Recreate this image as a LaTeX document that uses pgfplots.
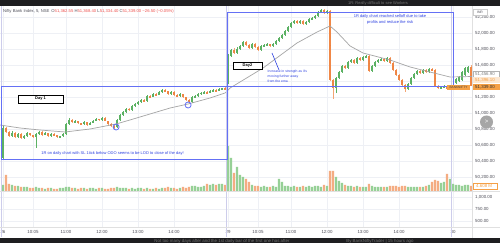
\documentclass[border=0pt]{standalone}
\usepackage{fontspec}
\setmainfont{Liberation Sans}
\usepackage{pgfplots}
\usepackage{pgfplotstable}
\pgfplotsset{compat=1.18}
\definecolor{upC}{RGB}{92,178,100}
\definecolor{dnC}{RGB}{240,135,70}
\definecolor{upV}{RGB}{150,208,150}
\definecolor{dnV}{RGB}{244,172,130}
\definecolor{boxB}{RGB}{100,112,245}
\definecolor{txtB}{RGB}{45,65,225}
\definecolor{emaC}{RGB}{165,165,165}
\definecolor{gridC}{RGB}{238,240,245}
\definecolor{redT}{RGB}{239,83,80}
\definecolor{axT}{RGB}{80,80,90}
\definecolor{darkbar}{RGB}{30,30,32}
\definecolor{tagO}{RGB}{245,160,70}
\definecolor{sepC}{RGB}{205,205,235}

\pgfplotstableread{
i o h l c v
0 50437.5 50837.5 50425 50812.5 6
1 50812.5 50825 50750 50762.5 16
2 50762.5 50775 50700 50712.5 7
3 50712.5 50770 50700 50750 6
4 50750 50760 50690 50700 5
5 50700 50750 50690 50737.5 5
6 50737.5 50745 50675 50687.5 4
7 50687.5 50720 50680 50712.5 4
8 50712.5 50765 50705 50750 4
9 50750 50755 50715 50725 3
10 50725 50730 50690 50700 3
11 50700 50745 50562.5 50737.5 4
12 50737.5 50770 50730 50762.5 3
13 50762.5 50770 50715 50725 3
14 50725 50760 50720 50750 2
15 50750 50755 50705 50712.5 3
16 50712.5 50745 50705 50737.5 3
17 50737.5 50745 50715 50725 2
18 50725 50730 50690 50700 2
19 50700 50720 50695 50712.5 3
20 50712.5 50745 50705 50737.5 3
21 50737.5 50870 50730 50862.5 4
22 50862.5 50935 50855 50912.5 4
23 50912.5 50920 50880 50887.5 3
24 50887.5 50910 50880 50900 3
25 50900 50905 50865 50875 2
26 50875 50880 50855 50862.5 3
27 50862.5 50895 50855 50887.5 3
28 50887.5 50890 50840 50850 2
29 50850 50885 50845 50875 3
30 50875 50910 50870 50900 3
31 50900 50935 50895 50925 2
32 50925 50930 50905 50912.5 3
33 50912.5 50950 50905 50937.5 3
34 50937.5 50945 50895 50900 2
35 50900 50905 50855 50862.5 2
36 50862.5 50870 50830 50837.5 3
37 50837.5 50845 50800 50825 3
38 50825 50920 50815 50912.5 4
39 50912.5 50985 50905 50975 3
40 50975 51025 50965 51012.5 3
41 51012.5 51060 51005 51050 3
42 51050 51060 51030 51037.5 2
43 51037.5 51095 51030 51087.5 3
44 51087.5 51120 51080 51112.5 2
45 51112.5 51145 51105 51137.5 3
46 51137.5 51175 51130 51162.5 3
47 51162.5 51170 51140 51150 2
48 51150 51225 51140 51212.5 3
49 51212.5 51220 51190 51200 2
50 51200 51250 51195 51237.5 2
51 51237.5 51245 51215 51225 3
52 51225 51275 51220 51262.5 2
53 51262.5 51300 51255 51287.5 3
54 51287.5 51295 51265 51275 3
55 51275 51280 51225 51237.5 4
56 51237.5 51270 51230 51262.5 3
57 51262.5 51270 51215 51225 3
58 51225 51235 51200 51212.5 2
59 51212.5 51245 51205 51237.5 3
60 51237.5 51245 51190 51200 4
61 51200 51205 51150 51162.5 3
62 51162.5 51170 51110 51137.5 4
63 51137.5 51210 51130 51200 5
64 51200 51225 51195 51212.5 5
65 51212.5 51245 51205 51237.5 4
66 51237.5 51260 51230 51250 4
67 51250 51270 51240 51262.5 5
68 51262.5 51270 51240 51250 7
69 51250 51285 51245 51275 6
70 51275 51295 51270 51287.5 7
71 51287.5 51295 51265 51275 6
72 51275 51310 51270 51300 7
73 51300 51320 51295 51312.5 7
74 51312.5 51320 51290 51300 6
75 51387.5 51737.5 51362.5 51712.5 45
76 51712.5 51800 51700 51787.5 33
77 51787.5 51810 51740 51750 18
78 51750 51820 51740 51800 24
79 51800 51850 51790 51837.5 16
80 51837.5 51900 51830 51887.5 14
81 51887.5 51900 51840 51850 12
82 51850 51860 51800 51812.5 9
83 51812.5 51875 51800 51862.5 6
84 51862.5 51870 51810 51825 5
85 51825 51835 51775 51787.5 5
86 51787.5 51850 51780 51837.5 4
87 51837.5 51860 51830 51850 5
88 51850 51870 51840 51862.5 4
89 51862.5 51870 51825 51837.5 4
90 51837.5 51875 51830 51862.5 5
91 51862.5 51910 51855 51900 4
92 51900 51950 51890 51937.5 12
93 51937.5 51990 51930 51975 9
94 51975 52040 51965 52025 5
95 52025 52090 52015 52075 5
96 52075 52140 52065 52125 4
97 52125 52160 52115 52150 5
98 52150 52165 52115 52125 4
99 52125 52160 52115 52150 4
100 52150 52160 52100 52112.5 5
101 52112.5 52150 52105 52137.5 4
102 52137.5 52185 52130 52175 5
103 52175 52200 52165 52187.5 4
104 52187.5 52225 52180 52212.5 5
105 52212.5 52275 52205 52262.5 5
106 52262.5 52300 52255 52287.5 4
107 52287.5 52300 52240 52250 6
108 52250 52290 52240 52275 5
109 52275 52285 51400 51412.5 20
110 51412.5 51425 51175 51312.5 20
111 51312.5 51450 51250 51437.5 14
112 51437.5 51525 51425 51512.5 10
113 51512.5 51600 51500 51587.5 8
114 51587.5 51600 51550 51562.5 6
115 51562.5 51650 51550 51637.5 5
116 51637.5 51675 51625 51662.5 5
117 51662.5 51675 51610 51625 4
118 51625 51700 51615 51687.5 5
119 51687.5 51700 51650 51662.5 4
120 51662.5 51712.5 51650 51700 4
121 51700 51725 51690 51712.5 4
122 51712.5 51720 51510 51525 7
123 51525 51600 51510 51587.5 5
124 51587.5 51650 51575 51637.5 4
125 51637.5 51675 51625 51662.5 4
126 51662.5 51690 51650 51675 4
127 51675 51690 51640 51650 4
128 51650 51700 51640 51687.5 4
129 51687.5 51700 51615 51625 5
130 51625 51635 51525 51537.5 5
131 51537.5 51550 51460 51475 5
132 51475 51485 51400 51412.5 4
133 51412.5 51425 51340 51350 5
134 51350 51360 51262.5 51300 5
135 51300 51375 51290 51362.5 4
136 51362.5 51450 51350 51437.5 4
137 51437.5 51500 51425 51487.5 4
138 51487.5 51540 51475 51525 4
139 51525 51535 51490 51500 4
140 51500 51550 51490 51537.5 4
141 51537.5 51550 51500 51512.5 5
142 51512.5 51565 51500 51550 6
143 51550 51560 51525 51537.5 9
144 51537.5 51550 51325 51337.5 11
145 51337.5 51350 51300 51312.5 10
146 51312.5 51340 51300 51325 8
147 51325 51350 51315 51337.5 9
148 51337.5 51350 51290 51300 17
149 51300 51340 51290 51325 12
150 51325 51350 51312.5 51337.5 7
151 51375 51440 51362.5 51425 6
152 51400 51462.5 51390 51450 6
153 51412.5 51525 51400 51512.5 5
154 51475 51575 51462.5 51562.5 6
155 51512.5 51587.5 51500 51575 6
156 51575 51600 51334.4 51339 5
}\candles

\pgfplotstableread{
i e
-1 50850
5.7 50812.5
12.3 50787.5
20.7 50762.5
29 50800
37.7 50862.5
42.3 50912.5
49 50987.5
55.7 51062.5
61.7 51112.5
69 51187.5
74 51250
75.7 51312.5
86.7 51562.5
98 51875
104.7 52012.5
109 52087.5
111.3 52012.5
115.7 51837.5
120 51750
129 51662.5
135.7 51575
142.3 51512.5
149 51450
156.3 51456
}\ema

\newcommand{\tf}{\fontsize{4.4}{5}\selectfont}
\pgfplotsset{candle/.style={only marks, mark=*, mark size=0pt, mark options={draw=none, fill=none}, forget plot,
  error bars/y dir=both, error bars/y explicit, error bars/error mark=none}}

\begin{document}
\begin{tikzpicture}[x=1pt,y=1pt]
\useasboundingbox (0,0) rectangle (500,243);
\fill[white] (0,0) rectangle (500,243);

% ---------- price pane ----------
\begin{axis}[at={(0pt,52pt)}, anchor=south west, scale only axis,
  width=472pt, height=185pt,
  xmin=-1, xmax=156.333, ymin=50025, ymax=52337.5,
  axis line style={draw=none}, tick style={draw=none},
  xtick={0,10,21,33,45,57,75,85,96,108,120,132,150}, xticklabels={},
  ytick={50200,50400,50600,50800,51000,51200,51600,51800,52000,52200},
  extra y ticks={51400}, extra y tick labels={},
  scaled y ticks=false, yticklabel pos=right,
  xmajorgrids, ymajorgrids, major grid style={gridC, line width=0.6pt},
  extra y tick style={grid=major, major grid style={gridC, line width=0.6pt}},
  yticklabel style={font=\tf, color=axT, anchor=west, inner sep=0pt, xshift=3pt},
  /pgf/number format/.cd, fixed, fixed zerofill, precision=2, 1000 sep={,}, assume math mode=true]
% wicks
\addplot[candle, restrict expr to domain={\thisrow{c}-\thisrow{o}}{0:100000},
  error bars/error bar style={line width=0.6pt, color=upC, solid}]
  table[x=i, y expr={(\thisrow{h}+\thisrow{l})/2}, y error expr={(\thisrow{h}-\thisrow{l})/2}] {\candles};
\addplot[candle, restrict expr to domain={\thisrow{o}-\thisrow{c}}{0.001:100000},
  error bars/error bar style={line width=0.6pt, color=dnC!75, solid}]
  table[x=i, y expr={(\thisrow{h}+\thisrow{l})/2}, y error expr={(\thisrow{h}-\thisrow{l})/2}] {\candles};
% bodies
\addplot[candle, restrict expr to domain={\thisrow{c}-\thisrow{o}}{0:100000},
  error bars/error bar style={line width=2pt, color=upC, solid}]
  table[x=i, y expr={(\thisrow{o}+\thisrow{c})/2}, y error expr={max(abs(\thisrow{o}-\thisrow{c})/2,4)}] {\candles};
\addplot[candle, restrict expr to domain={\thisrow{o}-\thisrow{c}}{0.001:100000},
  error bars/error bar style={line width=2pt, color=dnC, solid}]
  table[x=i, y expr={(\thisrow{o}+\thisrow{c})/2}, y error expr={max(abs(\thisrow{o}-\thisrow{c})/2,4)}] {\candles};
% EMA
\addplot[emaC, line width=0.7pt, mark=none] table[x=i, y=e] {\ema};
% circles
\addplot[only marks, mark=o, mark size=3pt, mark options={draw=boxB, line width=0.8pt}] coordinates {(37.7,50825) (61.7,51100)};
\end{axis}

% ---------- volume overlay ----------
\begin{axis}[at={(0pt,52pt)}, anchor=south west, scale only axis,
  width=472pt, height=185pt, xmin=-1, xmax=156.333, ymin=0, ymax=185, hide axis]
\addplot[ybar, bar width=2.3pt, bar shift=0pt, fill=upV, draw=none,
  restrict expr to domain={\thisrow{c}-\thisrow{o}}{0:100000}] table[x=i, y=v] {\candles};
\addplot[ybar, bar width=2.3pt, bar shift=0pt, fill=dnV, draw=none,
  restrict expr to domain={\thisrow{o}-\thisrow{c}}{0.001:100000}] table[x=i, y=v] {\candles};
\end{axis}

% ---------- lower pane ----------
\begin{axis}[at={(0pt,16pt)}, anchor=south west, scale only axis,
  width=472pt, height=36pt,
  xmin=-1, xmax=156.333, ymin=375, ymax=1125,
  axis line style={draw=none}, tick style={draw=none},
  xtick={0,10,21,33,45,57,75,85,96,108,120,132,150},
  xticklabels={26,10:05,11:00,12:00,13:00,14:00,29,10:05,11:00,12:00,13:00,14:00,30},
  xticklabel style={font=\tf, color=axT, inner sep=0pt, anchor=north, yshift=-3pt},
  ytick={500,750,1000}, scaled y ticks=false, yticklabel pos=right,
  xmajorgrids, ymajorgrids, major grid style={gridC, line width=0.6pt},
  yticklabel style={font=\tf, color=axT, anchor=west, inner sep=0pt, xshift=3pt},
  /pgf/number format/.cd, fixed, fixed zerofill, precision=2, 1000 sep={,}, assume math mode=true]
\addplot[draw=none] coordinates {(0,700)};
\end{axis}

% separators
\draw[sepC, line width=0.5pt] (1.5,6) -- (1.5,237);
\draw[sepC, line width=0.5pt] (226.5,6) -- (226.5,237);
\draw[sepC, line width=0.5pt] (451.5,6) -- (451.5,237);
\draw[black!12, line width=0.5pt] (0,52) -- (500,52);
\draw[black!12, line width=0.5pt] (0,16) -- (500,16);
\draw[black!12, line width=0.5pt] (472,5) -- (472,237);

% annotation boxes
\draw[boxB, line width=0.9pt] (1,84) rectangle (227,157);
\draw[boxB, line width=0.9pt] (227,157) rectangle (453,231);
\draw[black, line width=0.6pt, fill=white] (18,140) rectangle (63,148);
\node[font=\fontsize{4}{4}\selectfont\bfseries] at (40.5,144) {Day 1};
\draw[black, line width=0.6pt, fill=white] (233,174) rectangle (262,181);
\node[font=\fontsize{4}{4}\selectfont\bfseries] at (247.5,177.5) {Day2};
\draw[txtB, line width=0.6pt] (272,190) -- (279,173);
\node[anchor=north west, align=left, inner sep=0pt, text=txtB, font=\fontsize{3.4}{4.9}\selectfont] at (267.5,173) {Increase in strength as it's\\moving further away\\from the ema};
\node[align=center, inner sep=0pt, text=txtB, font=\fontsize{4}{5.2}\selectfont] at (390,223.5) {1R daily chart reached selloff due to take\\profits and reduce the risk};
\node[inner sep=0pt, text=txtB, font=\fontsize{4}{5}\selectfont] at (112.5,90) {1R on daily chart with SL 1tick below ODO seems to be LOD to close of the day!};

% header
\node[anchor=west, inner sep=0pt, font=\fontsize{4.2}{5}\selectfont] at (3,232) {\textcolor{axT}{Nifty Bank Index, 5, NSE}\hspace{2pt}\textcolor{axT}{O}\textcolor{redT}{51,362.55} \textcolor{axT}{H}\textcolor{redT}{51,368.40} \textcolor{axT}{L}\textcolor{redT}{51,334.40} \textcolor{axT}{C}\textcolor{redT}{51,339.00 −26.50 (−0.05\%)}};

% right scale labels
\draw[black!20, fill=white, line width=0.4pt] (473,227.5) rectangle (487,233.5);
\node[font=\fontsize{3.4}{4}\selectfont, text=axT] at (480,230.5) {INR};
\draw[black!30, fill=white, line width=0.4pt] (473,166) rectangle (499.5,172);
\node[anchor=west, inner sep=0pt, font=\tf, text=black!50] at (475,169) {51,456.90};
\fill[tagO!25] (473,160) rectangle (499.5,166);
\node[anchor=west, inner sep=0pt, font=\tf, text=tagO] at (475,163) {51,396.10};
\fill[tagO] (473,153) rectangle (499.5,159);
\node[anchor=west, inner sep=0pt, font=\tf, text=black!80] at (475,156) {51,339.00};
\fill[tagO] (447,153) rectangle (470,158);
\node[inner sep=0pt, font=\fontsize{3.2}{4}\selectfont, text=black!75] at (458.5,155.5) {BANKNIFTY};
\draw[tagO, fill=white, line width=0.4pt] (473,54) rectangle (497,60);
\node[anchor=west, inner sep=0pt, font=\tf, text=tagO] at (476,57) {4.608 M};
\fill[black!35] (486.5,121) circle (6.5);
\node[text=white, font=\fontsize{6}{6}\selectfont] at (486.5,121) {\textgreater};

% dark bars
\fill[darkbar] (0,237) rectangle (500,243);
\fill[darkbar] (0,0) rectangle (500,5);
\node[inner sep=0pt, font=\fontsize{4}{4}\selectfont, text=black!55] at (378,240) {1R: Really difficult to see Workers};
\node[inner sep=0pt, font=\fontsize{4.4}{4}\selectfont, text=black!55] at (222,2) {Not too many days after and the 1st daily bar of the first one has after};
\node[inner sep=0pt, font=\fontsize{4.4}{4}\selectfont, text=black!55] at (380,2) {By BankNiftyTrader | 15 hours ago};
\end{tikzpicture}
\end{document}
